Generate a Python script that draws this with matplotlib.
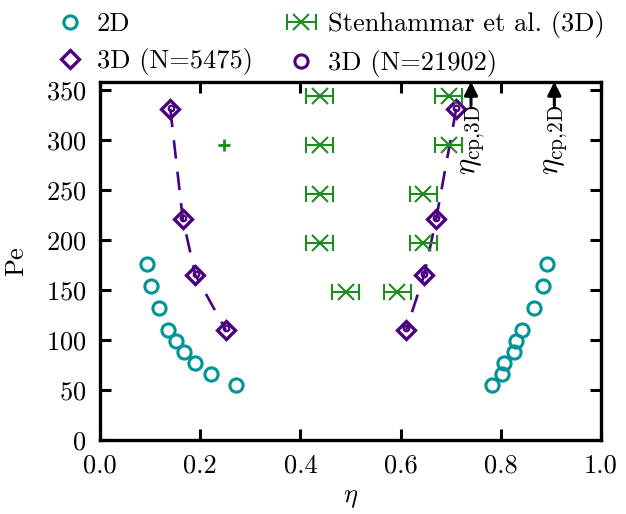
import matplotlib
matplotlib.use("Agg")
import matplotlib.pyplot as plt
from matplotlib.lines import Line2D
from matplotlib.legend_handler import HandlerErrorbar

plt.rcParams["font.family"] = "serif"
plt.rcParams["font.serif"] = ["cmr10"]
plt.rcParams["mathtext.fontset"] = "cm"
plt.rcParams["axes.formatter.use_mathtext"] = True
plt.rcParams["axes.unicode_minus"] = False
plt.rcParams["font.size"] = 19

TEAL = "#009494"
PURPLE = "#4b0082"
GREEN = "#1f8c1f"

# 2D simulations (both branches)
pe_2d = [176, 154, 132, 110, 99, 88, 77, 66, 55]
eta_2d_low = [0.093, 0.102, 0.117, 0.136, 0.151, 0.168, 0.190, 0.222, 0.272]
eta_2d_high = [0.893, 0.885, 0.867, 0.843, 0.830, 0.826, 0.807, 0.802, 0.782]

# 3D, N=5475
pe_3d = [331, 221, 165, 110]
eta_3d_low = [0.140, 0.165, 0.190, 0.251]
eta_3d_high = [0.711, 0.671, 0.647, 0.611]

# 3D, N=21902
pe_3d_big = [332, 222, 166, 112]
eta_3d_big_low = [0.141, 0.166, 0.191, 0.251]
eta_3d_big_high = [0.710, 0.670, 0.646, 0.611]

# Stenhammar et al. (3D)
pe_st = [344, 295, 246, 197, 148, 148, 197, 246, 295, 344]
eta_st = [0.438, 0.438, 0.438, 0.438, 0.490, 0.593, 0.645, 0.645, 0.696, 0.696]
eta_st_err = 0.027
extra_eta, extra_pe = [0.248], [295]

eta_cp_3d = 0.7405
eta_cp_2d = 0.9069

fig = plt.figure(figsize=(6.26, 5.14), dpi=100)
ax = fig.add_axes([0.16, 0.144, 0.80, 0.697])

ax.plot(eta_2d_low, pe_2d, "o", ls="none", mfc="none", mec=TEAL, ms=9.5, mew=2.2)
ax.plot(eta_2d_high, pe_2d, "o", ls="none", mfc="none", mec=TEAL, ms=9.5, mew=2.2)

for e in (eta_3d_low, eta_3d_high):
    ax.plot(e, pe_3d, "--", color=PURPLE, lw=1.9, dashes=(7, 5))
    ax.plot(e, pe_3d, "D", ls="none", mfc="none", mec=PURPLE, ms=9, mew=2.4)
for e in (eta_3d_big_low, eta_3d_big_high):
    ax.plot(e, pe_3d_big, "o", ls="none", mfc="none", mec=PURPLE, ms=4, mew=1.6)

ax.errorbar(eta_st, pe_st, xerr=eta_st_err, fmt="x", color=GREEN, ms=11,
            mew=1.5, elinewidth=1.5, capsize=6, capthick=1.5)
ax.plot(extra_eta, extra_pe, "+", color=GREEN, ms=9, mew=2)

for x, lab in ((eta_cp_3d, r"$\eta_{\mathrm{cp}{,}\mathrm{3D}}$"),
               (eta_cp_2d, r"$\eta_{\mathrm{cp}{,}\mathrm{2D}}$")):
    ax.annotate("", xy=(x, 358), xytext=(x, 334),
                arrowprops=dict(arrowstyle="-|>", color="black", lw=2.2,
                                mutation_scale=20, shrinkA=0, shrinkB=0))
    ax.text(x + 0.004, 335, lab, rotation=90, ha="center", va="top", fontsize=22)

ax.set_xlim(0, 1)
ax.set_ylim(0, 358)
ax.set_xticks([0.0, 0.2, 0.4, 0.6, 0.8, 1.0])
ax.set_xticklabels(["0.0", "0.2", "0.4", "0.6", "0.8", "1.0"])
ax.set_yticks(range(0, 351, 50))
ax.set_xlabel(r"$\eta$", labelpad=6)
ax.set_ylabel("Pe", labelpad=13)
ax.tick_params(direction="in", length=8, width=2.2, top=True, right=True, pad=10)
for s in ax.spines.values():
    s.set_linewidth(2.4)

h_2d = Line2D([], [], marker="o", ls="none", mfc="none", mec=TEAL, ms=9.5, mew=2.2)
h_3d = Line2D([], [], marker="D", ls="none", mfc="none", mec=PURPLE, ms=9, mew=2.4)
h_big = Line2D([], [], marker="o", ls="none", mfc="none", mec=PURPLE, ms=9.5, mew=2.2)
h_st = ax.errorbar([0.5], [-100], xerr=[0.02], fmt="x", color=GREEN, ms=11, mew=1.5,
                   elinewidth=1.5, capsize=6, capthick=1.5)
fig.legend([h_2d, h_3d, h_st, h_big],
           ["2D", "3D (N=5475)", "Stenhammar et al. (3D)", "3D (N=21902)"],
           ncol=2, frameon=False, loc="upper left", bbox_to_anchor=(0.089, 0.978),
           borderpad=0, borderaxespad=0,
           handlelength=1.1, handletextpad=0.45, columnspacing=1.3,
           labelspacing=0.45, fontsize=19,
           handler_map={type(h_st): HandlerErrorbar(xerr_size=0.55)})

fig.savefig("out.png", dpi=100)
